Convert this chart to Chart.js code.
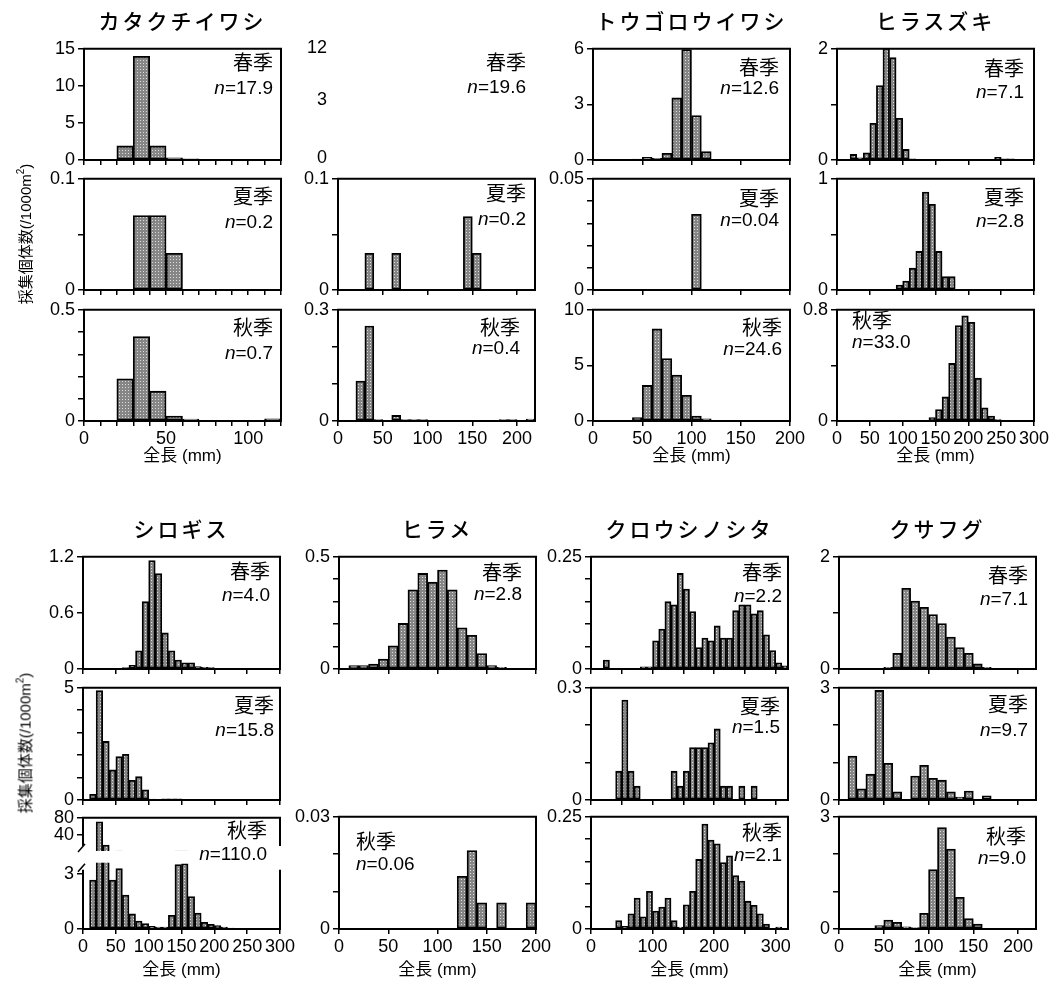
<!DOCTYPE html>
<html lang="ja">
<head>
<meta charset="utf-8">
<title>全長組成</title>
<script src="https://cdn.jsdelivr.net/npm/chart.js@4.4.1/dist/chart.umd.min.js"></script>
<style>
html, body { margin: 0; padding: 0; background: #fff; }
#fig { position: relative; width: 1053px; height: 982px; overflow: hidden; color: #000;
       font-family: "Liberation Sans", "Noto Sans CJK JP", sans-serif; }
#fig canvas { position: absolute; }
.t { position: absolute; white-space: nowrap; line-height: 1; }
.sp { font-family: "Noto Sans CJK JP", sans-serif; font-size: 21px; letter-spacing: 3px; font-weight: 500; }
.season { font-family: "Noto Sans CJK JP", sans-serif; font-size: 20px; }
.n { font-size: 19px; }
.xt { font-size: 17px; }
.yt { font-size: 15px; }
.yt sup { font-size: 10px; vertical-align: 7px; line-height: 0; }
.tk { font-size: 18px; }
</style>
</head>
<body>
<div id="fig"></div>
<script>
// 10 mm length classes, first class 0-10 mm
const BIN = 10;

const speciesNames = ['カタクチイワシ', '', 'トウゴロウイワシ', 'ヒラスズキ', 'シロギス', 'ヒラメ', 'クロウシノシタ', 'クサフグ'];
const seasonNames = ['春季', '夏季', '秋季'];

// n (/1000m2) spring, summer, autumn
const nKatakuchi = ['17.9', '0.2', '0.7'];
const nUnnamed = ['19.6', '0.2', '0.4'];
const nTougoro = ['12.6', '0.04', '24.6'];
const nHirasuzuki = ['7.1', '2.8', '33.0'];
const nShirogisu = ['4.0', '15.8', '110.0'];
const nHirame = ['2.8', null, '0.06'];
const nKurousi = ['2.2', '1.5', '2.1'];
const nKusafugu = ['7.1', '9.7', '9.0'];

// カタクチイワシ 0-120 mm
const katakuchiSpring = [0, 0.05, 1.9, 14.0, 1.9, 0.3, 0.15, 0, 0, 0, 0, 0];
const katakuchiSummer = [0, 0, 0, 0.067, 0.067, 0.033, 0, 0, 0, 0, 0, 0];
const katakuchiAutumn = [0, 0, 0.19, 0.38, 0.134, 0.022, 0.009, 0, 0, 0, 0, 0.01];

// (no title) 0-220 mm
const unnamedSummer = [0, 0, 0, 0.033, 0, 0, 0.033, 0, 0, 0, 0, 0, 0, 0, 0.066, 0.033, 0, 0, 0, 0, 0, 0];
const unnamedAutumn = [0, 0, 0.108, 0.256, 0.004, 0, 0.015, 0.004, 0.004, 0.004, 0, 0, 0, 0, 0, 0, 0, 0, 0.004, 0.004, 0, 0.005];

// トウゴロウイワシ 0-200 mm
const tougoroSpring = [0, 0, 0, 0, 0.05, 0.14, 0.09, 0.36, 3.35, 5.96, 2.4, 0.45, 0.04, 0.02, 0, 0, 0, 0, 0, 0];
const tougoroSummer = [0, 0, 0, 0, 0, 0, 0, 0, 0, 0, 0.034, 0, 0, 0, 0, 0, 0, 0, 0, 0];
const tougoroAutumn = [0, 0, 0, 0.03, 0.3, 3.2, 8.28, 5.62, 4.14, 2.31, 0.44, 0.2, 0.02, 0, 0, 0, 0, 0, 0, 0];

// ヒラスズキ 0-300 mm
const hirasuzukiSpring = [0, 0, 0.1, 0.04, 0.13, 0.66, 1.34, 2.01, 1.84, 0.75, 0.19, 0.02, 0, 0, 0, 0, 0, 0, 0, 0, 0, 0, 0, 0.01, 0.05, 0.02, 0.02, 0, 0, 0];
const hirasuzukiSummer = [0, 0, 0, 0, 0, 0, 0, 0, 0, 0.045, 0.08, 0.196, 0.347, 0.88, 0.77, 0.347, 0.12, 0.12, 0, 0, 0, 0, 0, 0, 0, 0, 0, 0, 0, 0];
const hirasuzukiAutumn = [0, 0, 0, 0, 0, 0, 0.003, 0.003, 0, 0.005, 0.005, 0.005, 0.003, 0, 0.024, 0.083, 0.173, 0.414, 0.686, 0.757, 0.71, 0.308, 0.095, 0.036, 0.01, 0.003, 0.005, 0, 0, 0];

// シロギス 0-300 mm
const shirogisuSpring = [0.003, 0.003, 0.003, 0.003, 0, 0, 0.014, 0.04, 0.195, 0.72, 1.16, 1.02, 0.386, 0.195, 0.096, 0.067, 0.067, 0.025, 0.018, 0.014, 0.003, 0, 0, 0, 0, 0, 0, 0, 0, 0];
const shirogisuSummer = [0, 0.25, 4.88, 2.61, 1.34, 1.94, 2.04, 0.88, 1.04, 0.45, 0.04, 0.03, 0.05, 0.05, 0.05, 0, 0, 0, 0, 0, 0.03, 0, 0, 0, 0, 0, 0, 0, 0, 0];
const shirogisuAutumn = [0, 2.66, 71, 17, 2.66, 3.29, 1.85, 0.82, 0.43, 0.3, 0.14, 0.1, 0.1, 0.75, 3.5, 3.55, 1.76, 0.87, 0.36, 0.25, 0.18, 0.1, 0.05, 0.02, 0, 0, 0, 0, 0.02, 0];

// ヒラメ 0-200 mm
const hirameSpring = [0, 0.015, 0.015, 0.022, 0.044, 0.103, 0.203, 0.353, 0.426, 0.387, 0.441, 0.353, 0.184, 0.15, 0.069, 0.015, 0.007, 0, 0, 0];
const hirameAutumn = [0, 0, 0, 0, 0, 0, 0, 0, 0, 0, 0, 0, 0.0141, 0.021, 0.007, 0, 0.007, 0, 0, 0.007];

// クロウシノシタ 0-320 mm
const kurousiSpring = [0, 0, 0.02, 0, 0, 0, 0, 0, 0.005, 0.005, 0.063, 0.089, 0.15, 0.143, 0.213, 0.178, 0.128, 0.048, 0.069, 0.063, 0.096, 0.069, 0.069, 0.13, 0.143, 0.143, 0.123, 0.13, 0.076, 0.041, 0.014, 0.007];
const kurousiSummer = [0, 0, 0, 0, 0.077, 0.267, 0.077, 0.037, 0, 0, 0, 0, 0, 0.077, 0.037, 0.077, 0.14, 0.14, 0.14, 0.153, 0.19, 0.037, 0.037, 0, 0.037, 0, 0.037, 0, 0, 0, 0, 0];
const kurousiAutumn = [0, 0, 0, 0, 0.019, 0.006, 0.034, 0.069, 0.027, 0.084, 0.04, 0.049, 0.069, 0.019, 0.004, 0.054, 0.084, 0.155, 0.234, 0.198, 0.19, 0.148, 0.163, 0.119, 0.107, 0.062, 0.053, 0.034, 0.011, 0, 0.004, 0];

// クサフグ 0-220 mm
const kusafuguSpring = [0, 0, 0, 0, 0.005, 0.03, 0.28, 1.44, 1.21, 1.1, 0.97, 0.81, 0.57, 0.38, 0.28, 0.09, 0.03, 0.01, 0, 0.005, 0, 0];
const kusafuguSummer = [0, 1.175, 0.3, 0.69, 2.93, 0.98, 0.22, 0, 0.64, 0.93, 0.58, 0.53, 0.22, 0.08, 0.24, 0.02, 0.11, 0, 0, 0, 0, 0];
const kusafuguAutumn = [0.005, 0.005, 0.01, 0.01, 0.09, 0.24, 0.18, 0.06, 0.04, 0.42, 1.59, 2.71, 2.14, 0.85, 0.28, 0.13, 0.02, 0.005, 0.005, 0.005, 0.005, 0.005];

// x axes (全長 mm)
const xMax = [120, 220, 200, 300, 300, 200, 320, 220];
const xTicks10to120 = [0, 10, 20, 30, 40, 50, 60, 70, 80, 90, 100, 110, 120];
const xTicks200 = [0, 50, 100, 150, 200];
const xTicks300 = [0, 50, 100, 150, 200, 250, 300];
const xLabels120 = [0, 50, 100];
const xLabels200 = [0, 50, 100, 150, 200];
const xLabels300 = [0, 50, 100, 150, 200, 250, 300];
const xLabels320 = [0, 100, 200, 300];
const xTicks = [xTicks10to120, xTicks200, xTicks200, xTicks300, xTicks300, xTicks200, xTicks300, xTicks200];
const xLabels = [xLabels120, xLabels200, xLabels200, xLabels300, xLabels300, xLabels200, xLabels320, xLabels200];

// y ticks / labels
const y15 = [0, 5, 10, 15];
const y01 = [0, 0.05, 0.1], y01L = [0, 0.1];
const y05 = [0, 0.1, 0.2, 0.3, 0.4, 0.5], y05L = [0, 0.5];
const y03 = [0, 0.1, 0.2, 0.3], y03L = [0, 0.3];
const y6 = [0, 3, 6];
const y005 = [0, 0.01, 0.02, 0.03, 0.04, 0.05], y005L = [0, 0.05];
const y10 = [0, 5, 10];
const y2 = [0, 1, 2], y2L = [0, 2];
const y1 = [0, 0.5, 1], y1L = [0, 1];
const y08 = [0, 0.4, 0.8], y08L = [0, 0.8];
const y12 = [0, 0.6, 1.2];
const y5 = [0, 1, 2, 3, 4, 5], y5L = [0, 5];
const yBreakHi = [40, 80];
const yBreakLo = [0, 3];
const y003 = [0, 0.01, 0.02, 0.03], y003L = [0, 0.03];
const y025 = [0, 0.05, 0.1, 0.15, 0.2, 0.25], y025L = [0, 0.25];
const y3 = [0, 1, 2, 3], y3L = [0, 3];
const unnamedSpringTicks = ['12', '3', '0'];

// ---- layout ----
const colLeft = [84, 338, 593, 837, 83, 339, 591, 839];
const rowTop = [[47, 177, 308], [555, 686, 815]];
const PW = 197, PH = [113, 114];
const PAD_L = 50, PAD_T = 12, PAD_R = 24, PAD_B = 32;
const TICK_FONT = { family: 'Liberation Sans', size: 18 };

const fig = document.getElementById('fig');

function dots() {
  const c = document.createElement('canvas');
  c.width = 3; c.height = 3;
  const g = c.getContext('2d');
  g.fillStyle = '#868686'; g.fillRect(0, 0, 3, 3);
  g.fillStyle = '#dcdcdc'; g.fillRect(1, 1, 1, 1);
  return g.createPattern(c, 'repeat');
}
const barFill = dots();

const framePlugin = {
  id: 'frame',
  afterDraw(chart, args, opts) {
    const a = chart.chartArea, ctx = chart.ctx;
    const s = opts.sides || 'tlrb';
    const gapT = opts.brk === 'top' ? 8 : 0, gapB = opts.brk === 'bottom' ? 6 : 0;
    ctx.save();
    ctx.strokeStyle = '#000'; ctx.lineWidth = 2; ctx.lineCap = 'square';
    ctx.beginPath();
    if (s.includes('t')) { ctx.moveTo(a.left, a.top); ctx.lineTo(a.right, a.top); }
    if (s.includes('b')) { ctx.moveTo(a.left, a.bottom); ctx.lineTo(a.right, a.bottom); }
    if (s.includes('l')) { ctx.moveTo(a.left, a.top + gapT); ctx.lineTo(a.left, a.bottom - gapB); }
    if (s.includes('r')) { ctx.moveTo(a.right, a.top + gapT); ctx.lineTo(a.right, a.bottom - gapB); }
    ctx.stroke();
    ctx.lineWidth = 1.5; ctx.lineCap = 'butt';
    ctx.beginPath();
    if (opts.brk === 'bottom') { ctx.moveTo(a.left - 5, a.bottom + 1); ctx.lineTo(a.left + 2, a.bottom - 7); }
    if (opts.brk === 'top') { ctx.moveTo(a.left - 5, a.top + 9); ctx.lineTo(a.left + 2, a.top + 1); }
    ctx.stroke();
    ctx.restore();
  }
};

function drawPanel(o) {
  const cv = document.createElement('canvas');
  cv.width = PW + PAD_L + PAD_R;
  cv.height = o.h + PAD_T + PAD_B;
  cv.style.left = (o.left - PAD_L) + 'px';
  cv.style.top = (o.top - PAD_T) + 'px';
  fig.appendChild(cv);
  new Chart(cv, {
    type: 'bar',
    data: {
      datasets: [{
        data: o.values.map((v, i) => ({ x: i * BIN + BIN / 2, y: v })),
        backgroundColor: barFill,
        borderColor: '#000',
        borderWidth: 1.8,
        borderSkipped: false,
        barPercentage: 1,
        categoryPercentage: 1,
        clip: 0
      }]
    },
    options: {
      responsive: false,
      animation: false,
      events: [],
      layout: { padding: { left: 0, top: PAD_T, right: PAD_R, bottom: 0 } },
      plugins: {
        legend: { display: false },
        tooltip: { enabled: false },
        frame: { sides: o.sides, brk: o.brk }
      },
      scales: {
        x: {
          type: 'linear', min: 0, max: o.xMax, offset: false,
          grid: { display: !o.noX, offset: false, drawOnChartArea: false, drawTicks: true, tickLength: 5, color: '#000', lineWidth: 1.5 },
          border: { display: false },
          ticks: {
            display: !o.noX, autoSkip: false, maxRotation: 0, padding: 2, color: '#000', font: TICK_FONT,
            callback: v => (o.showX && o.xLabels.includes(v)) ? String(v) : ''
          },
          afterBuildTicks: s => { s.ticks = o.xTicks.map(v => ({ value: v })); },
          afterFit: s => { s.height = PAD_B; }
        },
        y: {
          min: o.yMin || 0, max: o.yMax,
          grid: { drawOnChartArea: false, drawTicks: true, tickLength: 6, color: '#000', lineWidth: 1.5 },
          border: { display: false },
          ticks: {
            autoSkip: false, padding: 3, color: '#000', font: TICK_FONT,
            callback: v => o.yLabels.includes(v) ? String(v) : ''
          },
          afterBuildTicks: s => { s.ticks = o.yTicks.map(v => ({ value: v })); },
          afterFit: s => { s.width = PAD_L; }
        }
      }
    },
    plugins: [framePlugin]
  });
}

function addText(html, cls, css) {
  const d = document.createElement('div');
  d.className = 't ' + cls;
  d.innerHTML = html;
  Object.assign(d.style, css);
  fig.appendChild(d);
  return d;
}

// season + n label; lab = [dx, dy1, dy2], dx<0: right aligned from right edge
function seasonLabel(sp, s, top, lab, n) {
  const left = colLeft[sp];
  const pos = lab[0] < 0
    ? { right: (1053 - (left + PW + lab[0])) + 'px' }
    : { left: (left + lab[0]) + 'px' };
  addText(seasonNames[s], 'season', Object.assign({ top: (top + lab[1] - 11) + 'px' }, pos));
  addText('<i>n</i>=' + n, 'n', Object.assign({ top: (top + lab[2] - 9) + 'px' }, pos));
}

const panels = [
  { sp: 0, s: 0, values: katakuchiSpring, yMax: 15, yTicks: y15, yLabels: y15, lab: [-8, 16, 40], n: nKatakuchi },
  { sp: 0, s: 1, values: katakuchiSummer, yMax: 0.1, yTicks: y01, yLabels: y01L, lab: [-8, 20, 44], n: nKatakuchi },
  { sp: 0, s: 2, values: katakuchiAutumn, yMax: 0.5, yTicks: y05, yLabels: y05L, lab: [-8, 20, 44], n: nKatakuchi },
  { sp: 1, s: 1, values: unnamedSummer, yMax: 0.1, yTicks: y01, yLabels: y01L, lab: [-9, 17, 41], n: nUnnamed },
  { sp: 1, s: 2, values: unnamedAutumn, yMax: 0.3, yTicks: y03, yLabels: y03L, lab: [-15, 20, 39], n: nUnnamed },
  { sp: 2, s: 0, values: tougoroSpring, yMax: 6, yTicks: y6, yLabels: y6, lab: [-11, 21, 40], n: nTougoro },
  { sp: 2, s: 1, values: tougoroSummer, yMax: 0.05, yTicks: y005, yLabels: y005L, lab: [-11, 22, 42], n: nTougoro },
  { sp: 2, s: 2, values: tougoroAutumn, yMax: 10, yTicks: y10, yLabels: y10, lab: [-8, 20, 40], n: nTougoro },
  { sp: 3, s: 0, values: hirasuzukiSpring, yMax: 2, yTicks: y2, yLabels: y2L, lab: [-10, 22, 44], n: nHirasuzuki },
  { sp: 3, s: 1, values: hirasuzukiSummer, yMax: 1, yTicks: y1, yLabels: y1L, lab: [-10, 21, 43], n: nHirasuzuki },
  { sp: 3, s: 2, values: hirasuzukiAutumn, yMax: 0.8, yTicks: y08, yLabels: y08L, lab: [15, 13, 33], n: nHirasuzuki },
  { sp: 4, s: 0, values: shirogisuSpring, yMax: 1.2, yTicks: y12, yLabels: y12, lab: [-10, 17, 39], n: nShirogisu },
  { sp: 4, s: 1, values: shirogisuSummer, yMax: 5, yTicks: y5, yLabels: y5L, lab: [-6, 20, 43], n: nShirogisu },
  { sp: 5, s: 0, values: hirameSpring, yMax: 0.5, yTicks: y05, yLabels: y05L, lab: [-14, 18, 38], n: nHirame },
  { sp: 5, s: 2, values: hirameAutumn, yMax: 0.03, yTicks: y003, yLabels: y003L, lab: [17, 27, 48], n: nHirame },
  { sp: 6, s: 0, values: kurousiSpring, yMax: 0.25, yTicks: y025, yLabels: y025L, lab: [-6, 18, 40], n: nKurousi },
  { sp: 6, s: 1, values: kurousiSummer, yMax: 0.3, yTicks: y03, yLabels: y03L, lab: [-8, 21, 40], n: nKurousi },
  { sp: 6, s: 2, values: kurousiAutumn, yMax: 0.25, yTicks: y025, yLabels: y025L, lab: [-6, 18, 39], n: nKurousi },
  { sp: 7, s: 0, values: kusafuguSpring, yMax: 2, yTicks: y2, yLabels: y2L, lab: [-8, 21, 43], n: nKusafugu },
  { sp: 7, s: 1, values: kusafuguSummer, yMax: 3, yTicks: y3, yLabels: y3L, lab: [-8, 19, 43], n: nKusafugu },
  { sp: 7, s: 2, values: kusafuguAutumn, yMax: 3, yTicks: y3, yLabels: y3L, lab: [-10, 22, 42], n: nKusafugu }
];

panels.forEach(p => {
  const blk = p.sp < 4 ? 0 : 1;
  const top = rowTop[blk][p.s];
  drawPanel({
    left: colLeft[p.sp], top: top, h: PH[blk], values: p.values,
    xMax: xMax[p.sp], xTicks: xTicks[p.sp], xLabels: xLabels[p.sp], showX: p.s === 2,
    yMax: p.yMax, yTicks: p.yTicks, yLabels: p.yLabels
  });
  seasonLabel(p.sp, p.s, top, p.lab, p.n[p.s]);
});

// シロギス 秋季: broken y axis, same series in two parts
drawPanel({
  left: colLeft[4], top: 816, h: 35, values: shirogisuAutumn,
  xMax: xMax[4], xTicks: xTicks[4], xLabels: xLabels[4], showX: false, noX: true,
  yMin: 3.5, yMax: 80, yTicks: yBreakHi, yLabels: yBreakHi, sides: 'tlr', brk: 'bottom'
});
drawPanel({
  left: colLeft[4], top: 861, h: 68, values: shirogisuAutumn,
  xMax: xMax[4], xTicks: xTicks[4], xLabels: xLabels[4], showX: true,
  yMax: 3.6, yTicks: yBreakLo, yLabels: yBreakLo, sides: 'lrb', brk: 'top'
});
seasonLabel(4, 2, 816, [-13, 15, 37], nShirogisu[2]);

// second species, spring: axis numbers and label only
const unnamedTickY = [47, 99, 157];
unnamedSpringTicks.forEach((t, i) => addText(t, 'tk', { right: (1053 - 327) + 'px', top: (unnamedTickY[i] - 9) + 'px' }));
seasonLabel(1, 0, 47, [-9, 16, 39], nUnnamed[0]);

// species titles
speciesNames.forEach((name, i) => {
  if (!name) return;
  const cx = colLeft[i] + PW / 2;
  const d = addText(name, 'sp', { left: cx + 'px', top: (i < 4 ? 22 - 12 : 530 - 12) + 'px' });
  d.style.transform = 'translateX(-50%)';
});

// x axis titles
const xTitleCols = [0, 2, 3, 4, 5, 6, 7];
xTitleCols.forEach(i => {
  const cx = colLeft[i] + PW / 2;
  const d = addText('全長 (mm)', 'xt', { left: cx + 'px', top: (i < 4 ? 456 - 9 : 970 - 9) + 'px' });
  d.style.transform = 'translateX(-50%)';
});

// y axis titles
[234, 743].forEach(cy => {
  const d = addText('採集個体数(/1000m<sup>2</sup>)', 'yt', { left: '25px', top: cy + 'px' });
  d.style.transform = 'translate(-50%, -50%) rotate(-90deg)';
});
</script>
</body>
</html>
